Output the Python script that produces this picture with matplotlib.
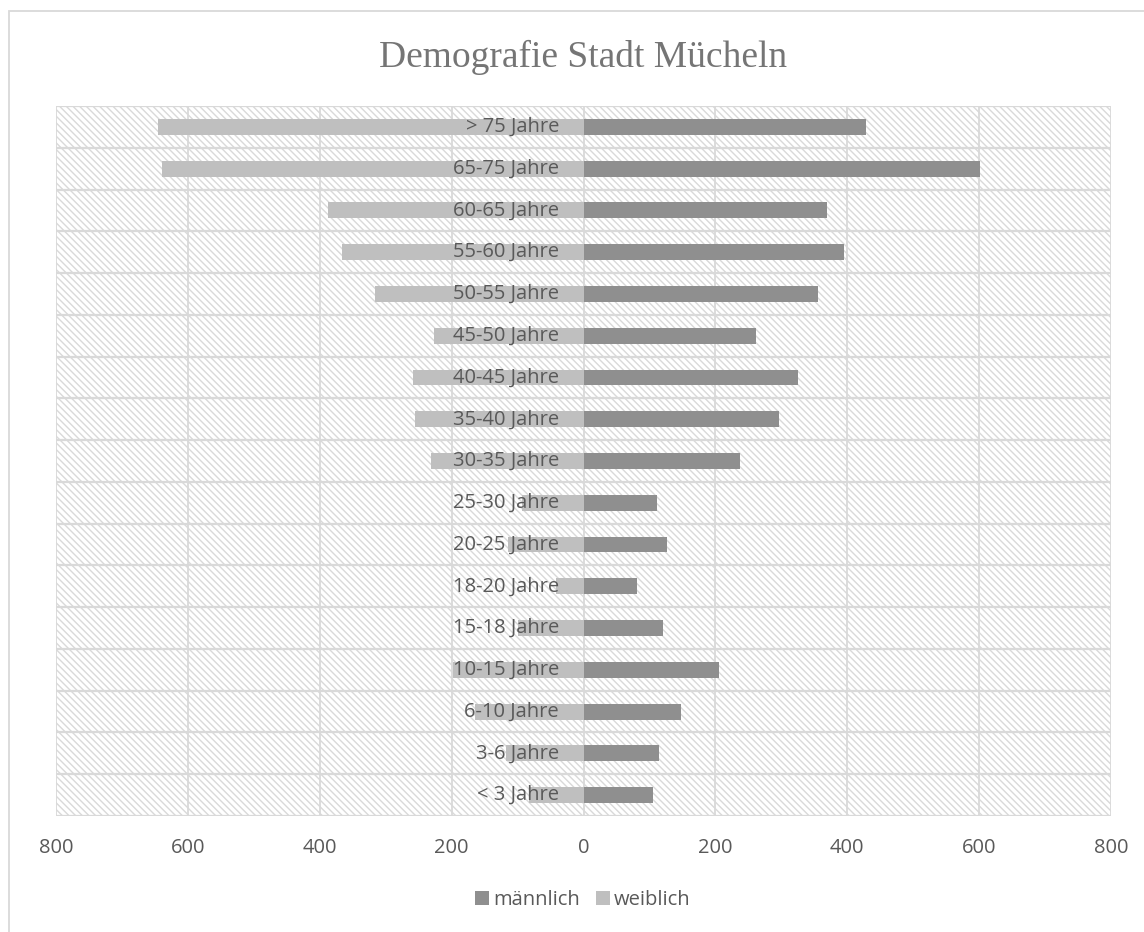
import matplotlib.pyplot as plt
from matplotlib.patches import Rectangle

# Data (bottom to top)
groups = ['< 3 Jahre', '3-6 Jahre', '6-10 Jahre', '10-15 Jahre', '15-18 Jahre',
          '18-20 Jahre', '20-25 Jahre', '25-30 Jahre', '30-35 Jahre', '35-40 Jahre',
          '40-45 Jahre', '45-50 Jahre', '50-55 Jahre', '55-60 Jahre', '60-65 Jahre',
          '65-75 Jahre', '> 75 Jahre']
maennlich = [106, 114, 148, 206, 121, 81, 126, 112, 237, 297,
             326, 261, 356, 395, 370, 601, 429]
weiblich = [82, 117, 165, 198, 100, 41, 115, 94, 232, 255,
            259, 226, 316, 367, 388, 639, 645]
xticks = [-800, -600, -400, -200, 0, 200, 400, 600, 800]

grid_col = '#d9d9d9'
text_col = '#595959'
fs = 14.5

plt.rcParams['hatch.color'] = grid_col
plt.rcParams['hatch.linewidth'] = 1.0

fig = plt.figure(figsize=(11.44, 9.32), dpi=100)

# outer chart border (only top and left visible)
fig.patches.append(Rectangle((8.5 / 1144, -0.1), 1.2, 1.1 - 10.5 / 932,
                             transform=fig.transFigure, fill=False,
                             edgecolor=grid_col, linewidth=1.3))

ax = fig.add_axes([56 / 1144, 1 - 816 / 932, 1055 / 1144, 710 / 932])

# hatched plot background
ax.patch.set_facecolor('white')
bg = Rectangle((0, 0), 1, 1, transform=ax.transAxes, facecolor='white',
               edgecolor=grid_col, hatch='\\\\\\\\\\', linewidth=0, zorder=0)
ax.add_patch(bg)

y = list(range(len(groups)))
ax.barh(y, maennlich, height=0.38, color='#8f8f8f', zorder=3, label='männlich')
ax.barh(y, [-v for v in weiblich], height=0.38, color='#bfbfbf', zorder=3,
        label='weiblich')

ax.set_xlim(-800, 800)
ax.set_ylim(-0.5, len(groups) - 0.5)

# grid lines
for xv in xticks:
    ax.axvline(xv, color=grid_col, linewidth=1.3, zorder=1)
for k in range(len(groups) + 1):
    ax.axhline(k - 0.5, color=grid_col, linewidth=1.6, zorder=1)

# category labels drawn at the zero line
for yi, g in zip(y, groups):
    ax.text(-37, yi, g, ha='right', va='center', fontsize=fs,
            color=text_col, family='Open Sans', zorder=5)

ax.set_yticks([])
ax.set_xticks(xticks)
ax.set_xticklabels([str(abs(v)) for v in xticks], fontsize=fs,
                   color=text_col, family='Open Sans')
ax.tick_params(axis='x', length=0, pad=16)
for s in ax.spines.values():
    s.set_visible(False)

fig.text(583 / 1144, 1 - 57 / 932, 'Demografie Stadt Mücheln', ha='center',
         va='center', fontsize=27, color='#757575', family='Liberation Serif')

leg = fig.legend(loc='center', bbox_to_anchor=(583 / 1144, 1 - 900 / 932), ncol=2,
                 frameon=False, handlelength=0.7, handleheight=0.7,
                 handletextpad=0.2, columnspacing=0.8,
                 prop={'family': 'Open Sans', 'size': fs})
for t in leg.get_texts():
    t.set_color(text_col)

plt.savefig('out.png', dpi=100)
